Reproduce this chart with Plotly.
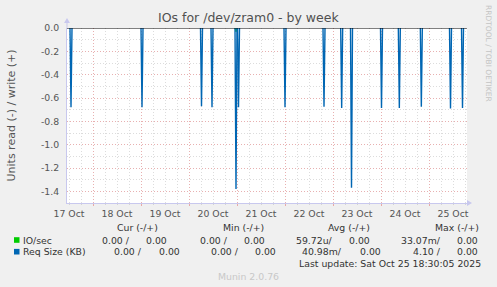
import plotly.graph_objects as go
from datetime import datetime, timedelta

# ---------------- data ----------------
title = "IOs for /dev/zram0 - by week"
y_label = "Units read (-) / write (+)"
x_start = "2025-10-17 11:00"
x_end = "2025-10-25 19:00"

# Req Size (KB) read spikes (negative = read)
req_times = ["2025-10-17 13:00", "2025-10-19 00:30", "2025-10-20 06:15", "2025-10-20 11:30",
             "2025-10-20 23:30", "2025-10-21 00:45", "2025-10-22 00:00", "2025-10-22 19:30",
             "2025-10-23 04:20", "2025-10-23 09:15", "2025-10-24 00:15", "2025-10-24 09:10",
             "2025-10-24 20:10", "2025-10-25 10:45", "2025-10-25 16:45"]
req_values = [-0.68, -0.68, -0.67, -0.68, -1.38, -0.68, -0.68, -0.675,
              -0.685, -1.37, -0.685, -0.685, -0.675, -0.69, -0.685]

# IO/sec read spikes
io_times = ["2025-10-20 23:30"]
io_values = [-0.033]

y_tickvals = [0.0, -0.2, -0.4, -0.6, -0.8, -1.0, -1.2, -1.4]
y_ticktext = ["0.0", "-0.2", "-0.4", "-0.6", "-0.8", "-1.0", "-1.2", "-1.4"]

legend_headers = ["Cur (-/+)", "Min (-/+)", "Avg (-/+)", "Max (-/+)"]
series_names = ["IO/sec", "Req Size (KB)"]
series_colors = ["#00CC00", "#0066B3"]
stats_io = [("0.00 /", "0.00"), ("0.00 /", "0.00"), ("59.72u/", "0.00"), ("33.07m/", "0.00")]
stats_req = [("0.00 /", "0.00"), ("0.00 /", "0.00"), ("40.98m/", "0.00"), ("4.10 /", "0.00")]
last_update = "Last update: Sat Oct 25 18:30:05 2025"
munin_version = "Munin 2.0.76"
rrd_credit = "RRDTOOL / TOBI OETIKER"

# ---------------- build ----------------
FONT = "DejaVu Sans"
step = timedelta(minutes=30)


def spikes(times, values):
    xs, ys = [], []
    for t, v in zip(times, values):
        d = datetime.strptime(t, "%Y-%m-%d %H:%M")
        xs += [d - step, d, d + step, None]
        ys += [0, v, 0, None]
    return xs, ys


fig = go.Figure()
xi, yi = spikes(io_times, io_values)
fig.add_trace(go.Scatter(x=xi, y=yi, mode="lines", line=dict(color=series_colors[0], width=1),
                         hoverinfo="skip", showlegend=False))
xr, yr = spikes(req_times, req_values)
fig.add_trace(go.Scatter(x=xr, y=yr, mode="lines", line=dict(color=series_colors[1], width=1.4),
                         hoverinfo="skip", showlegend=False))

L, R, T, B = 67, 30, 28, 84
W, H = 497 - L - R, 287 - T - B


def px(x):
    return (x - L) / W


def py(y):
    return (287 - B - y) / H


ann = []


def text(t, x, y, anchor="left", size=9.33, color="#333333", angle=0):
    ann.append(dict(text=t, x=px(x), y=py(y), xref="paper", yref="paper", showarrow=False,
                    xanchor=anchor, yanchor="middle", textangle=angle,
                    font=dict(family=FONT, size=size, color=color)))


# title
text(title, 248, 18, "center", 12.5, "#505050")
# y label
text(y_label, 11, 115.5, "center", 11, "#555555", -90)
# rrdtool credit
text(rrd_credit, 488.5, 53.5, "center", 7.5, "#c4c4c4", 90)

# legend headers
for h, cx in zip(legend_headers, [137, 243, 349, 456.5]):
    text(h, cx, 227, "center")
# series rows
row_y = [240, 251.7]
for name, yy in zip(series_names, row_y):
    text(name, 20.5, yy, "left")
io_right = [(132, 169), (230, 267), (335, 372), (442.7, 480)]
req_right = [(144, 181.7), (240.7, 278.3), (344, 383.3), (443.3, 480)]
for stats, rights, yy in ((stats_io, io_right, row_y[0]), (stats_req, req_right, row_y[1])):
    for (a, b), (ra, rb) in zip(stats, rights):
        text(a, ra, yy, "right")
        text(b, rb, yy, "right")
text(last_update, 482.7, 263.3, "right")
text(munin_version, 248, 276, "center", 9.33, "#c8c8c8")

shapes = []
# legend colour squares
for c, yy in zip(series_colors, row_y):
    shapes.append(dict(type="rect", xref="paper", yref="paper",
                       x0=px(14), x1=px(19.5), y0=py(yy + 2.8), y1=py(yy - 2.8),
                       fillcolor=c, line=dict(width=0)))
# zero rule
shapes.append(dict(type="line", xref="paper", yref="y", x0=0, x1=1, y0=0, y1=0,
                   line=dict(color="#000000", width=1), layer="above"))
# axis arrows
AX = "#c8c8ee"
shapes.append(dict(type="path", xref="paper", yref="paper", xsizemode="pixel", ysizemode="pixel",
                   xanchor=0, yanchor=1, path="M -3 5 L 3 5 L 0 10 Z",
                   fillcolor=AX, line=dict(width=0)))
shapes.append(dict(type="line", xref="paper", yref="paper", xsizemode="pixel", ysizemode="pixel",
                   xanchor=0, yanchor=1, x0=0, x1=0, y0=0, y1=6, line=dict(color=AX, width=1)))
shapes.append(dict(type="path", xref="paper", yref="paper", xsizemode="pixel", ysizemode="pixel",
                   xanchor=1, yanchor=0, path="M 0 -3 L 0 3 L 5 0 Z",
                   fillcolor=AX, line=dict(width=0)))

fig.update_layout(
    width=497, height=287,
    margin=dict(l=L, r=R, t=T, b=B),
    paper_bgcolor="#F0F0F0", plot_bgcolor="#FFFFFF",
    font=dict(family=FONT, size=9.33, color="#555555"),
    showlegend=False,
    annotations=ann, shapes=shapes,
    xaxis=dict(range=[x_start, x_end], type="date",
               tick0="2025-10-18", dtick=86400000, ticklabelmode="period",
               tickformat="%d %b", showgrid=True, gridcolor="#e8b0b0", griddash="1px,2px",
               gridwidth=1, ticks="outside", ticklen=2, tickcolor="#e8a8a8",
               minor=dict(dtick=6 * 3600000, tick0="2025-10-18", showgrid=True,
                          gridcolor="#dcdcdc", griddash="1px,2px", ticks="outside",
                          ticklen=1, tickcolor="#d4d4d4"),
               showline=True, linecolor=AX, linewidth=1, zeroline=False,
               tickfont=dict(family=FONT, size=9.33, color="#555555")),
    yaxis=dict(range=[-1.5, 0], tickvals=y_tickvals, ticktext=y_ticktext,
               showgrid=True, gridcolor="#e8b0b0", griddash="1px,2px",
               minor=dict(dtick=0.1, tick0=0, showgrid=True, gridcolor="#dcdcdc",
                          griddash="1px,2px"),
               ticks="", ticklabelstandoff=5,
               showline=True, linecolor=AX, linewidth=1, zeroline=False,
               tickfont=dict(family=FONT, size=9.33, color="#555555")),
)

fig.write_html("out.html")
